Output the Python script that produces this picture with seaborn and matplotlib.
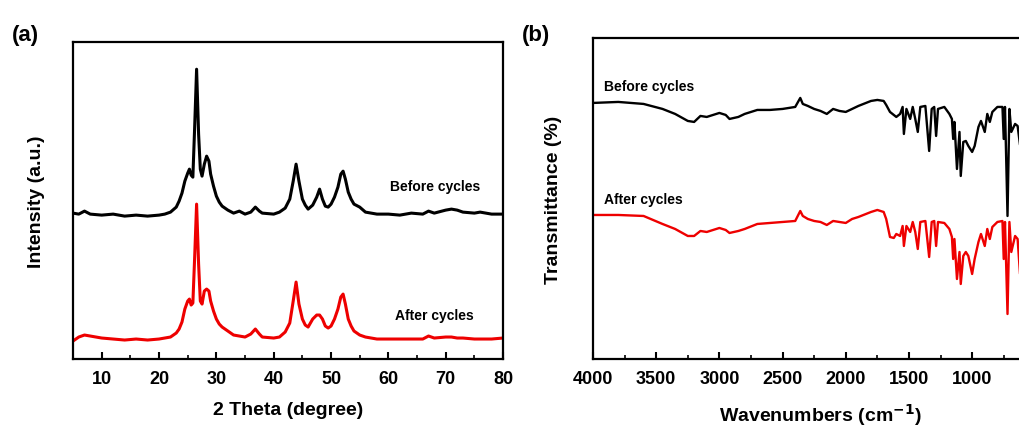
import numpy as np
import pandas as pd
import matplotlib
matplotlib.use("Agg")
import matplotlib.pyplot as plt
from matplotlib.ticker import MultipleLocator, FixedLocator
import seaborn as sns

# XRD patterns (2 theta, intensity in a.u. - before cycles offset above after cycles)
xrd_theta = [5, 6, 7, 8, 10, 12, 14, 16, 18, 20, 21, 22, 23, 23.5, 24, 24.5, 25.0, 25.3,
             25.6, 25.9, 26.2, 26.55, 26.9, 27.2, 27.5, 27.9, 28.3, 28.7, 29.0, 29.5, 30,
             30.5, 31, 32, 33, 34, 35, 36, 36.8, 37.5, 38, 40, 41, 42, 42.8, 43.4, 43.9,
             44.4, 45, 45.5, 46, 46.8, 47.5, 48, 48.5, 49, 49.5, 50, 50.6, 51.2, 51.7,
             52.1, 52.5, 53, 53.5, 54, 55, 56, 58, 60, 62, 64, 66, 67, 68, 70, 71, 72,
             73, 75, 76, 78, 80]
xrd_before = [146, 145, 148, 145, 144, 145, 143, 144, 143, 144, 145, 147, 152, 158, 166,
              178, 186, 190, 184, 182, 230, 290, 225, 190, 183, 195, 203, 198, 185, 173,
              163, 157, 153, 149, 146, 148, 145, 147, 152, 148, 146, 145, 147, 151, 160,
              178, 195, 178, 160, 154, 150, 154, 162, 170, 160, 153, 152, 155, 162, 172,
              185, 188, 180, 167, 160, 155, 152, 147, 145, 145, 144, 146, 145, 148, 146,
              149, 150, 149, 147, 146, 147, 145, 145]
xrd_after = [18, 22, 24, 23, 21, 20, 19, 20, 19, 20, 21, 22, 26, 30, 37, 50, 58, 60, 54,
             56, 100, 155, 95, 58, 55, 68, 70, 68, 58, 48, 40, 35, 32, 28, 24, 23, 22, 25,
             30, 25, 22, 21, 22, 27, 36, 58, 77, 55, 40, 34, 32, 40, 44, 44, 40, 33, 31,
             33, 40, 50, 62, 65, 55, 40, 33, 28, 24, 22, 20, 20, 20, 20, 20, 23, 21, 22,
             22, 21, 21, 20, 20, 20, 21]

# FTIR spectra (wavenumber, transmittance - offset)
ir_wn = [4000, 3800, 3600, 3450, 3350, 3250, 3200, 3150, 3100, 3000, 2950, 2920, 2850,
         2800, 2700, 2600, 2500, 2400, 2360, 2340, 2300, 2250, 2200, 2150, 2100, 2050,
         2000, 1950, 1900, 1800, 1750, 1700, 1680, 1650, 1620, 1600, 1570, 1550, 1540,
         1520, 1490, 1470, 1450, 1430, 1410, 1370, 1340, 1320, 1300, 1285, 1270, 1220,
         1180, 1160, 1150, 1140, 1120, 1100, 1090, 1070, 1050, 1030, 1000, 980, 950,
         930, 900, 880, 860, 840, 800, 760, 750, 740, 720, 705, 690, 660, 640, 620, 600]
ir_before = [256, 257, 255, 250, 245, 238, 237, 243, 242, 246, 244, 240, 242, 245, 249,
             249, 250, 252, 261, 255, 253, 250, 248, 245, 250, 248, 247, 250, 253, 258,
             259, 258, 254, 247, 244, 242, 245, 252, 225, 250, 240, 252, 240, 227, 252,
             253, 208, 250, 252, 223, 250, 252, 245, 240, 220, 237, 190, 227, 183, 217,
             218, 213, 207, 213, 232, 238, 227, 245, 237, 247, 252, 252, 220, 252, 143,
             250, 227, 235, 233, 213, 207]
ir_after = [144, 144, 143, 135, 130, 123, 123, 128, 127, 131, 129, 126, 128, 130, 135,
            136, 137, 138, 148, 143, 140, 138, 137, 134, 138, 137, 136, 140, 142, 147,
            149, 147, 140, 122, 121, 125, 123, 133, 113, 133, 127, 137, 127, 110, 137,
            138, 102, 137, 138, 113, 137, 136, 130, 122, 100, 120, 80, 107, 75, 103,
            107, 103, 85, 100, 117, 125, 113, 130, 120, 132, 137, 138, 100, 137, 45,
            137, 107, 123, 120, 83, 77]
ir_tick_labels = [4000, 3500, 3000, 2500, 2000, 1500, 1000]

sns.set_style("ticks")
plt.rcParams["font.family"] = ["Liberation Sans", "DejaVu Sans"]
plt.rcParams["font.weight"] = "bold"
plt.rcParams["text.color"] = "black"
plt.rcParams["axes.labelcolor"] = "black"
plt.rcParams["xtick.color"] = "black"
plt.rcParams["mathtext.default"] = "bf"

fig = plt.figure(figsize=(10.2, 4.31), dpi=100)
ax1 = fig.add_axes([0.0716, 0.1647, 0.4216, 0.735])
ax2 = fig.add_axes([0.5814, 0.1647, 0.446, 0.745])

xrd = pd.DataFrame({"theta": xrd_theta, "before": xrd_before, "after": xrd_after})
sns.lineplot(data=xrd, x="theta", y="before", ax=ax1, color="black", lw=2.2)
sns.lineplot(data=xrd, x="theta", y="after", ax=ax1, color="#ee0000", lw=2.2)
ax1.set_xlim(5, 80)
ax1.set_ylim(0, 317)
ax1.xaxis.set_major_locator(MultipleLocator(10))
ax1.xaxis.set_minor_locator(MultipleLocator(5))
ax1.set_yticks([])
ax1.set_xlabel("2 Theta (degree)", fontsize=14, fontweight="bold", labelpad=10)
ax1.set_ylabel("Intensity (a.u.)", fontsize=14, fontweight="bold", labelpad=20)
ax1.text(68.1, 173, "Before cycles", fontsize=10, fontweight="bold", ha="center", va="center")
ax1.text(68.1, 44, "After cycles", fontsize=10, fontweight="bold", ha="center", va="center")

ir = pd.DataFrame({"wn": ir_wn, "before": ir_before, "after": ir_after})
sns.lineplot(data=ir, x="wn", y="before", ax=ax2, color="black", lw=1.7)
sns.lineplot(data=ir, x="wn", y="after", ax=ax2, color="#ee0000", lw=1.7)
ax2.set_xlim(4000, 400)
ax2.set_ylim(0, 321)
ax2.xaxis.set_major_locator(FixedLocator(ir_tick_labels))
ax2.xaxis.set_minor_locator(MultipleLocator(250))
ax2.set_yticks([])
ax2.set_xlabel("Wavenumbers (cm$^{-1}$)", fontsize=14, fontweight="bold", labelpad=10)
ax2.set_ylabel("Transmittance (%)", fontsize=14, fontweight="bold", labelpad=22)
ax2.text(3913, 273, "Before cycles", fontsize=10, fontweight="bold", ha="left", va="center")
ax2.text(3913, 160, "After cycles", fontsize=10, fontweight="bold", ha="left", va="center")

for ax in (ax1, ax2):
    for sp in ax.spines.values():
        sp.set_visible(True)
        sp.set_linewidth(1.6)
        sp.set_color("black")
    ax.tick_params(axis="x", which="major", direction="in", length=5, width=1.5,
                   labelsize=13, pad=8)
    ax.tick_params(axis="x", which="minor", direction="in", length=3, width=1.2)
    for lab in ax.get_xticklabels():
        lab.set_fontweight("bold")

fig.text(0.012, 0.905, "(a)", fontsize=16, fontweight="bold")
fig.text(0.512, 0.905, "(b)", fontsize=16, fontweight="bold")

fig.savefig("out.png", dpi=100)
